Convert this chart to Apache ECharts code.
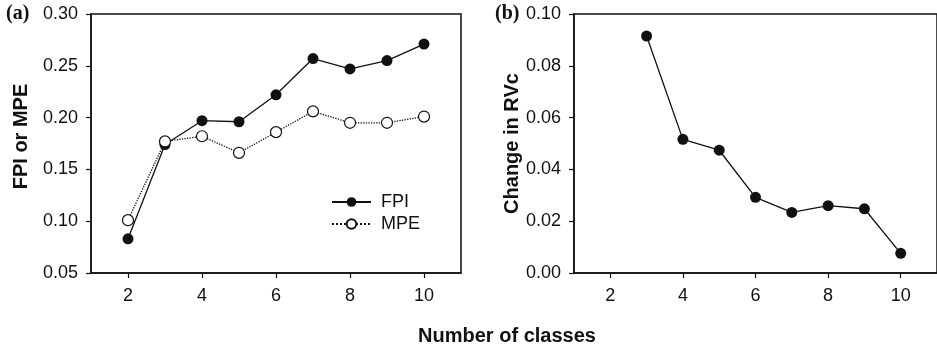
<!DOCTYPE html>
<html>
<head>
<meta charset="utf-8">
<script src="https://cdn.jsdelivr.net/npm/echarts@6/dist/echarts.min.js"></script>
<style>
html,body{margin:0;padding:0;background:#fff;}
#c{width:937px;height:348px;}
</style>
</head>
<body>
<div id="c"></div>
<script>
var classesA = [2, 3, 4, 5, 6, 7, 8, 9, 10];
var fpi = [0.083, 0.174, 0.197, 0.196, 0.222, 0.257, 0.247, 0.255, 0.271];
var mpe = [0.101, 0.177, 0.182, 0.166, 0.186, 0.206, 0.195, 0.195, 0.201];
var classesB = [3, 4, 5, 6, 7, 8, 9, 10];
var changeRVc = [0.0915, 0.0516, 0.0474, 0.0292, 0.0234, 0.0260, 0.0248, 0.0076];
var xTicks = [2, 4, 6, 8, 10];

function pairs(xs, ys) { return xs.map(function (x, i) { return [x, ys[i]]; }); }

var ink = '#111';
var sans = '"Liberation Sans", Arial, Helvetica, sans-serif';

function xAxisDef(gi) {
  return {
    type: 'value', gridIndex: gi, min: 1, max: 11, interval: 1,
    axisLine: { show: true, onZero: false, lineStyle: { color: ink, width: 1.5 } },
    axisTick: { show: true, inside: false, length: 5, customValues: xTicks, lineStyle: { color: ink, width: 1.2 } },
    axisLabel: { customValues: xTicks, margin: 14, color: ink, fontSize: 18, fontFamily: sans },
    splitLine: { show: false }
  };
}
function yAxisDef(gi, min, max, interval, name, gap, pad) {
  return {
    type: 'value', gridIndex: gi, min: min, max: max, interval: interval,
    name: name, nameLocation: 'middle', nameGap: gap,
    nameTextStyle: { color: ink, fontSize: 20, fontWeight: 'bold', fontFamily: sans, padding: pad },
    axisLine: { show: true, lineStyle: { color: ink, width: 1.5 } },
    axisTick: { show: true, inside: false, length: 5, lineStyle: { color: ink, width: 1.2 } },
    axisLabel: { margin: 13, color: ink, fontSize: 18, fontFamily: sans,
      formatter: function (v) { return v.toFixed(2); } },
    splitLine: { show: false }
  };
}

var chart = echarts.init(document.getElementById('c'), null, { renderer: 'canvas' });
chart.setOption({
  backgroundColor: '#fff',
  animation: false,
  grid: [
    { left: 91, top: 14, width: 370, height: 259, show: true, borderColor: ink, borderWidth: 1.5, backgroundColor: 'transparent' },
    { left: 574, top: 14, width: 370, height: 259, show: true, borderColor: ink, borderWidth: 1.5, backgroundColor: 'transparent' }
  ],
  xAxis: [xAxisDef(0), xAxisDef(1)],
  yAxis: [
    yAxisDef(0, 0.05, 0.30, 0.05, 'FPI or MPE', 60, [0, 0, 0, 14]),
    yAxisDef(1, 0, 0.10, 0.02, 'Change in RVc', 52, [0, 0, 0, 0])
  ],
  legend: {
    orient: 'vertical', left: 326, top: 188, itemWidth: 39, itemHeight: 12, itemGap: 4,
    textStyle: { color: ink, fontSize: 18, fontFamily: sans, padding: [0, 0, 0, 5] },
    data: ['FPI', 'MPE']
  },
  series: [
    {
      name: 'FPI', type: 'line', xAxisIndex: 0, yAxisIndex: 0,
      data: pairs(classesA, fpi), symbol: 'circle', symbolSize: 11,
      lineStyle: { color: ink, width: 1.3, type: 'solid' },
      itemStyle: { color: ink, borderColor: ink, borderWidth: 0 }, z: 3
    },
    {
      name: 'MPE', type: 'line', xAxisIndex: 0, yAxisIndex: 0,
      data: pairs(classesA, mpe), symbol: 'circle', symbolSize: 11,
      lineStyle: { color: ink, width: 1.3, type: 'dotted' },
      itemStyle: { color: '#fff', borderColor: ink, borderWidth: 1.2 }, z: 4
    },
    {
      name: 'Change in RVc', type: 'line', xAxisIndex: 1, yAxisIndex: 1,
      data: pairs(classesB, changeRVc), symbol: 'circle', symbolSize: 11,
      lineStyle: { color: ink, width: 1.3 },
      itemStyle: { color: ink }
    }
  ],
  graphic: [
    { type: 'text', left: 6, top: 4, style: { text: '(a)', fill: ink, font: 'bold 20px "Liberation Serif", "Times New Roman", serif' } },
    { type: 'text', left: 495, top: 4, style: { text: '(b)', fill: ink, font: 'bold 20px "Liberation Serif", "Times New Roman", serif' } },
    { type: 'text', x: 507, y: 336, style: { text: 'Number of classes', fill: ink, align: 'center', verticalAlign: 'middle', font: 'bold 20px "Liberation Sans", Arial, sans-serif' } }
  ]
});
</script>
</body>
</html>
